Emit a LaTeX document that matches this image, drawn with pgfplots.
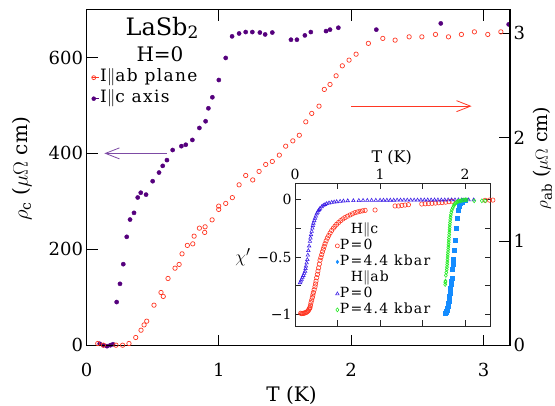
\documentclass[border=0pt]{standalone}
\usepackage{pgfplots}
\pgfplotsset{compat=1.18}
\usepackage{fontspec}
\setmainfont{DejaVu Serif}
\usetikzlibrary{arrows.meta}

\definecolor{cpurple}{RGB}{85,0,125}
\definecolor{cred}{RGB}{255,55,35}
\definecolor{apurple}{RGB}{125,75,165}
\definecolor{ablue}{RGB}{60,30,230}
\definecolor{sqblue}{RGB}{20,140,255}
\definecolor{cgreen}{RGB}{40,235,40}

\newcommand{\fs}[1]{\fontsize{#1}{#1}\selectfont}

\begin{document}
\begin{tikzpicture}
\pgfplotsset{
  mainax/.style={
    scale only axis, width=423.5pt, height=336.2pt,
    at={(0pt,0pt)}, anchor=south west,
    xmin=0, xmax=3.2, clip=false,
    /pgf/number format/assume math mode=true,
    ticklabel style={font=\fs{18}},
    label style={font=\fs{20}},
    major tick length=11pt,
    axis line style={line width=1.3pt},
    every tick/.style={black, line width=1pt},
    tick align=inside,
  },
  onemark/.style={legend image code/.code={\draw[##1] plot coordinates {(0pt,0pt)};}},
  onemarkgap/.style={legend image code/.code={\path (-2pt,0pt) -- (5pt,0pt);\draw[##1] plot coordinates {(0pt,0pt)};}},
}

% rho_c, left axis
\begin{axis}[mainax,
  ymin=-1, ymax=700,
  xtick={0,1,2,3}, xtick pos=both, xticklabel pos=lower,
  xticklabel style={yshift=-14pt},
  ytick={0,200,400,600}, ytick pos=left,
  xlabel={T (K)}, ylabel={$\rho_{\mathrm{c}}$ ($\mu\Omega$ cm)},
  xlabel style={at={(axis description cs:0.484,-0.148)}, anchor=center},
  ylabel style={at={(axis description cs:-0.152,0.526)}, anchor=center, rotate=0},
]
\addplot[only marks, mark=*, mark size=2.1pt, color=cpurple] coordinates {
(0.10,3) (0.13,0) (0.155,-2) (0.18,0) (0.20,2)
(0.228,90) (0.253,128) (0.278,169) (0.304,226) (0.329,262) (0.359,276)
(0.387,308) (0.41,318) (0.45,314) (0.50,342) (0.548,360) (0.576,374)
(0.608,386) (0.651,407) (0.717,415) (0.75,418) (0.80,428) (0.853,453)
(0.90,467) (0.921,494) (0.951,517) (1.0,553) (1.052,599) (1.10,644)
(1.153,650) (1.203,653) (1.253,653) (1.31,652) (1.35,648) (1.404,652)
(1.545,637) (1.59,637) (1.65,646) (1.695,653) (1.81,655) (1.84,658)
(1.903,662) (2.19,658) (2.677,671) (3.19,669)
};
\draw[apurple, line width=0.8pt, -{Straight Barb[length=14pt,width=11pt,line width=0.8pt]}]
  (axis cs:0.606,400) -- (axis cs:0.135,400);
\end{axis}

% rho_ab, right axis
\begin{axis}[mainax,
  ymin=-0.005, ymax=3.23,
  xtick=\empty,
  ytick={0,1,2,3}, ytick pos=right, yticklabel pos=right,
  ylabel={$\rho_{\mathrm{ab}}$ ($\mu\Omega$ cm)},
  ylabel style={font=\fs{19}, at={(axis description cs:1.077,0.558)}, anchor=center, rotate=0},
  legend style={draw=none, fill=none, at={(axis description cs:0.004,0.835)}, anchor=north west,
    font=\fs{17}\addfontfeature{LetterSpace=8}, row sep=0pt,
    nodes={inner sep=1pt, text height=13pt, text depth=6pt}},
  legend cell align=left,
]
\addplot[only marks, mark=o, mark size=2.2pt, color=cred, line width=0.7pt, forget plot] coordinates {
(0.085,0.016) (0.127,0) (0.223,0) (0.273,0) (0.321,0.016) (0.372,0.074)
(0.412,0.144) (0.435,0.195) (0.455,0.231) (0.51,0.385) (0.563,0.507)
(0.58,0.469) (0.616,0.642) (0.669,0.741) (0.70,0.777) (0.722,0.879)
(0.762,0.96) (0.803,0.975) (0.813,1.049) (0.853,1.126) (0.896,1.139)
(0.893,1.085) (0.949,1.206) (0.999,1.338) (0.999,1.306) (1.052,1.364)
(1.102,1.42) (1.153,1.543) (1.203,1.633) (1.256,1.59) (1.304,1.672)
(1.354,1.739) (1.404,1.768) (1.457,1.829) (1.505,1.915) (1.559,1.966)
(1.608,2.02) (1.657,2.149) (1.702,2.23) (1.757,2.30) (1.797,2.461)
(1.84,2.509) (1.886,2.592) (1.933,2.688) (1.984,2.743) (2.037,2.80)
(2.13,2.904) (2.239,2.952) (2.332,2.935) (2.438,2.967) (2.534,2.967)
(2.637,2.99) (2.735,2.967) (2.833,2.99) (2.931,3.015) (3.032,2.99)
(3.131,3.015)
};
\addlegendimage{onemarkgap, only marks, mark=o, mark size=2pt, color=cred, line width=0.7pt}
\addlegendentry{I$\parallel$ab plane}
\addlegendimage{onemarkgap, only marks, mark=*, mark size=2pt, color=cpurple}
\addlegendentry{I$\parallel$c axis}
\draw[cred, line width=0.8pt, -{Straight Barb[length=14pt,width=11pt,line width=0.8pt]}]
  (axis cs:2.0,2.3) -- (axis cs:2.91,2.3);
\end{axis}

\node[font=\fs{24}] at (75.5pt,317.7pt) {LaSb\raisebox{-0.3ex}{\fs{17}2}};
\node[font=\fs{20}] at (73.5pt,291.7pt) {H=0};

% inset
\begin{axis}[
  scale only axis, width=195.7pt, height=142.7pt,
  at={(208.5pt,19.7pt)}, anchor=south west,
  xmin=0, xmax=2.3, ymin=-1.1, ymax=0.14,
  clip=false,
  axis line style={line width=0.9pt, black!85},
  every tick/.style={black!85, line width=0.8pt},
  tick align=inside, major tick length=6pt,
  xtick={0,0.5,...,2}, xticklabels={0,,1,,2}, xtick pos=both, xticklabel pos=upper,
  ytick={-1,-0.75,-0.5,-0.25,0}, yticklabels={−1,,−0.5,,0}, ytick pos=both, yticklabel pos=left,
  ticklabel style={font=\fs{14}},
  xlabel={T (K)}, xlabel style={font=\fs{16}, at={(axis description cs:0.494,1.177)}, anchor=center},
  ylabel={$\chi'$}, ylabel style={font=\fs{19}, rotate=-90, at={(axis description cs:-0.266,0.484)}, anchor=center},
  legend style={draw=none, fill=none, at={(axis description cs:0.19,0.745)}, anchor=north west,
    font=\fs{14}\addfontfeature{LetterSpace=9}, row sep=0pt,
    nodes={inner sep=0.5pt, text height=10.8pt, text depth=4.2pt}},
  legend cell align=left,
]
\addplot[only marks, mark=o, mark size=2.2pt, color=cred, line width=0.6pt, forget plot] coordinates {
(0.067,-0.989) (0.078,-0.992) (0.088,-0.991) (0.098,-0.99) (0.108,-0.988)
(0.118,-0.986) (0.129,-0.983) (0.14,-0.978) (0.149,-0.972) (0.157,-0.966)
(0.165,-0.955) (0.172,-0.945) (0.176,-0.94) (0.182,-0.92) (0.188,-0.897)
(0.196,-0.875) (0.204,-0.853) (0.21,-0.83) (0.216,-0.81) (0.225,-0.785)
(0.235,-0.759) (0.241,-0.735) (0.247,-0.71) (0.255,-0.68) (0.263,-0.652)
(0.27,-0.623) (0.278,-0.595) (0.286,-0.562) (0.294,-0.529) (0.304,-0.505)
(0.314,-0.48) (0.323,-0.455) (0.333,-0.431) (0.343,-0.408) (0.353,-0.385)
(0.366,-0.36) (0.38,-0.336) (0.396,-0.314) (0.412,-0.293) (0.431,-0.27)
(0.451,-0.25) (0.47,-0.233) (0.49,-0.216) (0.513,-0.2) (0.537,-0.184)
(0.562,-0.17) (0.588,-0.158) (0.617,-0.146) (0.647,-0.135) (0.676,-0.125)
(0.706,-0.115) (0.735,-0.109) (0.765,-0.103) (0.794,-0.099) (0.824,-0.095)
(0.941,-0.092) (1.176,-0.057) (1.216,-0.057) (1.255,-0.052) (1.294,-0.049)
(1.333,-0.046) (1.49,-0.04) (1.53,-0.038) (1.57,-0.036) (1.61,-0.034)
(1.65,-0.032) (1.69,-0.029) (1.73,-0.027) (1.77,-0.024) (1.81,-0.02)
(1.85,-0.016) (2.235,-0.008) (2.286,-0.006) (2.325,-0.006)
};
\addplot[only marks, mark=square*, mark size=2pt, color=sqblue, forget plot] coordinates {
(1.765,-0.989) (1.772,-0.98) (1.778,-0.972) (1.784,-0.962) (1.79,-0.945)
(1.796,-0.926) (1.802,-0.905) (1.808,-0.882) (1.812,-0.86) (1.816,-0.839)
(1.82,-0.818) (1.824,-0.796) (1.828,-0.768) (1.831,-0.739) (1.837,-0.71)
(1.843,-0.681) (1.851,-0.609) (1.857,-0.566) (1.863,-0.523) (1.875,-0.437)
(1.882,-0.351) (1.89,-0.25) (1.902,-0.164) (1.914,-0.092) (1.925,-0.06)
(1.933,-0.049) (1.947,-0.03) (1.961,-0.02) (1.98,-0.01) (2.0,-0.006)
};
\addplot[only marks, mark=triangle, mark size=2pt, color=ablue, line width=0.6pt, forget plot] coordinates {
(0.059,-0.724) (0.068,-0.71) (0.078,-0.695) (0.088,-0.678) (0.098,-0.661)
(0.108,-0.643) (0.118,-0.624) (0.124,-0.602) (0.129,-0.58) (0.137,-0.552)
(0.145,-0.523) (0.151,-0.484) (0.157,-0.445) (0.166,-0.405) (0.176,-0.365)
(0.182,-0.336) (0.188,-0.307) (0.196,-0.278) (0.204,-0.25) (0.21,-0.228)
(0.216,-0.207) (0.226,-0.185) (0.235,-0.164) (0.245,-0.145) (0.255,-0.126)
(0.265,-0.112) (0.275,-0.098) (0.285,-0.088) (0.294,-0.078) (0.314,-0.064)
(0.333,-0.052) (0.353,-0.044) (0.373,-0.037) (0.40,-0.031) (0.431,-0.026)
(0.46,-0.023) (0.49,-0.02) (0.53,-0.017) (0.569,-0.014) (0.62,-0.012)
(0.686,-0.011) (0.75,-0.01) (0.8,-0.009) (0.85,-0.009) (0.9,-0.008)
(0.95,-0.008) (1.0,-0.007) (1.04,-0.007) (1.08,-0.007) (1.12,-0.007)
(1.16,-0.007) (1.2,-0.006) (1.24,-0.006) (1.28,-0.006) (1.32,-0.006)
(1.36,-0.006) (1.4,-0.006) (1.44,-0.006) (1.48,-0.005) (1.52,-0.005)
(1.56,-0.005) (1.6,-0.005) (1.64,-0.005) (1.68,-0.005) (1.72,-0.005)
(1.76,-0.005) (1.8,-0.004) (1.84,-0.004) (1.88,-0.004) (1.92,-0.004)
(1.96,-0.004) (2.0,-0.004) (2.04,-0.004) (2.1,-0.004)
};
\addplot[only marks, mark=diamond, mark size=2pt, color=cgreen, line width=0.6pt, forget plot] coordinates {
(1.765,-0.739) (1.767,-0.72) (1.769,-0.71) (1.773,-0.66) (1.778,-0.635)
(1.784,-0.609) (1.786,-0.588) (1.788,-0.566) (1.79,-0.545) (1.792,-0.523)
(1.794,-0.5) (1.796,-0.48) (1.798,-0.458) (1.8,-0.437) (1.802,-0.415)
(1.804,-0.394) (1.806,-0.372) (1.808,-0.351) (1.81,-0.33) (1.812,-0.307)
(1.814,-0.285) (1.816,-0.264) (1.818,-0.243) (1.82,-0.221) (1.822,-0.2)
(1.824,-0.178) (1.828,-0.156) (1.831,-0.135) (1.837,-0.113) (1.843,-0.092)
(1.853,-0.075) (1.863,-0.058) (1.872,-0.046) (1.882,-0.035) (1.896,-0.027)
(1.91,-0.02) (1.925,-0.015) (1.941,-0.012) (1.96,-0.009) (1.98,-0.006)
(2.0,-0.004) (2.02,-0.003) (2.106,-0.012) (2.196,-0.012) (2.235,-0.012)
};
\addlegendimage{empty legend}
\addlegendentry{\hspace{11pt}H$\parallel$c}
\addlegendimage{onemark, only marks, mark=o, mark size=2pt, color=cred, line width=0.6pt}
\addlegendentry{P=0}
\addlegendimage{onemark, only marks, mark=diamond*, mark size=1.8pt, color=sqblue}
\addlegendentry{P=4.4 kbar}
\addlegendimage{empty legend}
\addlegendentry{\hspace{11pt}H$\parallel$ab}
\addlegendimage{onemark, only marks, mark=triangle, mark size=2pt, color=ablue, line width=0.6pt}
\addlegendentry{P=0}
\addlegendimage{onemark, only marks, mark=diamond, mark size=2pt, color=cgreen, line width=0.6pt}
\addlegendentry{P=4.4 kbar}
\end{axis}

\pgfresetboundingbox
\path (-86.5pt,-59.3pt) rectangle (468.5pt,345.7pt);
\end{tikzpicture}
\end{document}
